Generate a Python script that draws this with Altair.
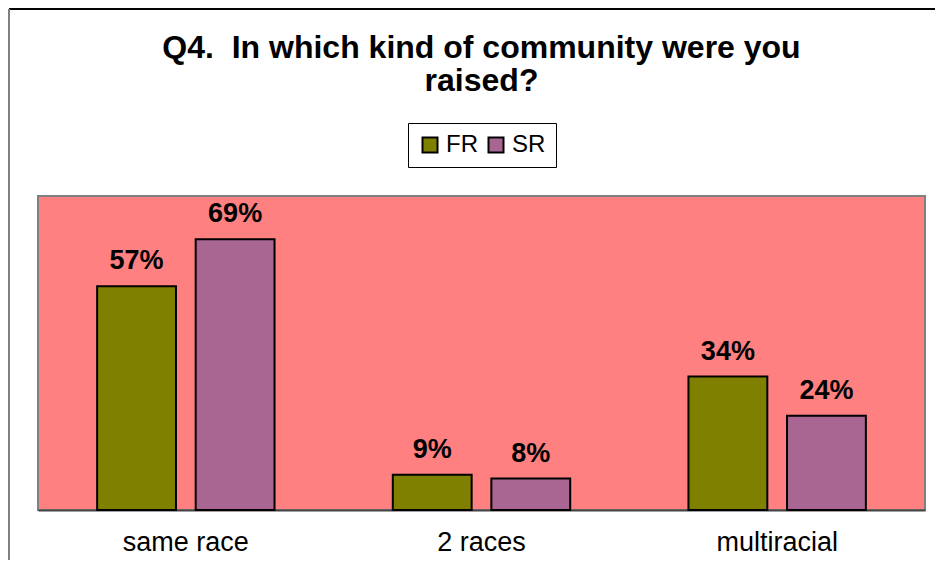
import altair as alt
import pandas as pd

categories = ["same race", "2 races", "multiracial"]
series = ["FR", "SR"]
fr_values = [57, 9, 34]
sr_values = [69, 8, 24]
colors = ["#808000", "#AA6692"]

rows = []
for i, c in enumerate(categories):
    rows.append({"category": c, "series": "FR", "value": fr_values[i], "label": f"{fr_values[i]}%"})
    rows.append({"category": c, "series": "SR", "value": sr_values[i], "label": f"{sr_values[i]}%"})
df = pd.DataFrame(rows)

FONT = "Liberation Sans, Arial, sans-serif"

x_enc = alt.X("category:N", sort=categories, title=None,
              scale=alt.Scale(paddingInner=0.4, paddingOuter=0.2),
              axis=alt.Axis(labelAngle=0, ticks=False, labelFontSize=27, labelFont=FONT,
                            labelColor="black", labelPadding=19, domainColor="#444444",
                            domainWidth=2))
xo_enc = alt.XOffset("series:N", sort=series, scale=alt.Scale(paddingInner=0.2, paddingOuter=0))
y_enc = alt.Y("value:Q", scale=alt.Scale(domain=[0, 80]), axis=None)

bars = alt.Chart(df).mark_bar(stroke="black", strokeWidth=2).encode(
    x=x_enc,
    xOffset=xo_enc,
    y=y_enc,
    color=alt.Color("series:N", sort=series,
                    scale=alt.Scale(domain=series, range=colors),
                    legend=alt.Legend(title=None, orient="none", legendX=370, legendY=-73,
                                      direction="horizontal", strokeColor="black",
                                      fillColor="white", padding=10, symbolType="square",
                                      symbolSize=225, symbolStrokeWidth=2,
                                      labelFontSize=24, labelFont=FONT, labelColor="black",
                                      labelOffset=4, columnPadding=6)),
)

labels = alt.Chart(df).mark_text(fontSize=27, fontWeight="bold", font=FONT, color="black",
                                 baseline="alphabetic", dy=-17).encode(
    x=x_enc,
    xOffset=xo_enc,
    y=y_enc,
    text="label:N",
)

frame_top = alt.Chart(df).mark_rule(color="black", strokeWidth=1, clip=False).encode(
    x=alt.value(-29), x2=alt.value(960), y=alt.value(-187))
frame_left = alt.Chart(df).mark_rule(color="#808080", strokeWidth=2, clip=False).encode(
    x=alt.value(-29), y=alt.value(-187), y2=alt.value(600))

chart = alt.layer(bars, labels, frame_top, frame_left).properties(
    width=887, height=314,
    autosize=alt.AutoSizeParams(type="none"),
    padding={"left": 30, "top": 188, "right": 10, "bottom": 50},
    title=alt.TitleParams(["Q4.\u00a0 In which kind of community were you", "raised?"],
                          fontSize=32, fontWeight="bold", font=FONT, color="black",
                          anchor="middle", lineHeight=33, offset=-90),
).configure_view(
    fill="#FF8080", stroke="#808080", strokeWidth=2
)

chart.save("out.html", embed_options={"renderer": "svg", "actions": False})
